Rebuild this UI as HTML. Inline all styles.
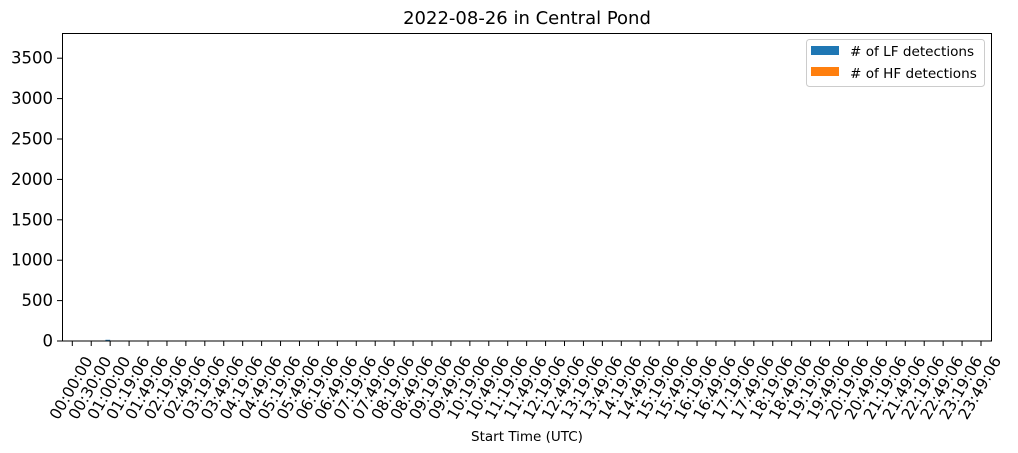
<!DOCTYPE html>
<html><head><meta charset="utf-8"><style>
body{margin:0;background:#fff;}
svg{display:block;font-family:"DejaVu Sans","Liberation Sans",sans-serif;}
</style></head><body>
<svg id="chart" width="1018" height="453" viewBox="0 0 1018 453" xmlns="http://www.w3.org/2000/svg">
<rect width="1018" height="453" fill="#fff"/>
<text x="527" y="24" font-size="18" text-anchor="middle">2022-08-26 in Central Pond</text>
<g id="bars"></g>
<g id="yaxis"></g>
<g id="xaxis"></g>
<rect x="62.5" y="33.5" width="929" height="307.5" fill="none" stroke="#000" stroke-width="1"/>
<text x="527" y="441" font-size="13.5" text-anchor="middle">Start Time (UTC)</text>
<g>
<rect x="806.5" y="39.5" width="178" height="47" rx="3" fill="#fff" stroke="#ccc"/>
<g><rect x="811" y="46" width="28" height="9" fill="#1f77b4"/><text x="850" y="56" font-size="13.6">&#35; of LF detections</text></g>
<g><rect x="811" y="67" width="28" height="9" fill="#ff7f0e"/><text x="850" y="78" font-size="13.6"># of HF detections</text></g>
</g>
</svg>
<script>
const categories = ["00:00:00","00:30:00","01:00:00"];
(function(){for(let h=1;h<24;h++){for(const m of [19,49]){categories.push(String(h).padStart(2,"0")+":"+m+":06");}}})();
const lfValues = categories.map((c,i)=> i===2?15:0);
const hfValues = categories.map(()=>0);
const yTicks = [0,500,1000,1500,2000,2500,3000,3500];
const ns="http://www.w3.org/2000/svg";
const x0=72.3, step=(981-72.3)/(categories.length-1);
function xs(i){return x0+i*step;}
function ys(v){return 341-v*(341-58.2)/3500;}
function mk(t,a,parent){const e=document.createElementNS(ns,t);for(const k in a)e.setAttribute(k,a[k]);parent.appendChild(e);return e;}
const bars=document.getElementById('bars'),ya=document.getElementById('yaxis'),xa=document.getElementById('xaxis');
const bw=step*0.25;
categories.forEach((c,i)=>{
  if(lfValues[i]>0){const r=mk('rect',{x:xs(i)-bw,y:ys(lfValues[i]),width:bw,height:341-ys(lfValues[i]),fill:'#1f77b4'},bars);
  
  }
  if(hfValues[i]>0){const r=mk('rect',{x:xs(i),y:ys(hfValues[i]),width:bw,height:341-ys(hfValues[i]),fill:'#ff7f0e'},bars);
  
  }
  const tk=mk('line',{x1:xs(i),x2:xs(i),y1:341,y2:346,stroke:'#000'},xa);
  
  
  const t=mk('text',{x:0,y:0,'font-size':15.5,'text-anchor':'middle','dominant-baseline':'central',transform:`translate(${xs(i)-1},388) rotate(-60)`},xa);
  t.textContent=c;
  
  
});
yTicks.forEach(v=>{
  const l=mk('line',{x1:57,x2:62,y1:ys(v),y2:ys(v),stroke:'#000'},ya);
  
  
  const t=mk('text',{x:53,y:ys(v)+5.5,'font-size':16.5,'text-anchor':'end'},ya);
  t.textContent=v;
  
  
});
</script>
</body></html>
